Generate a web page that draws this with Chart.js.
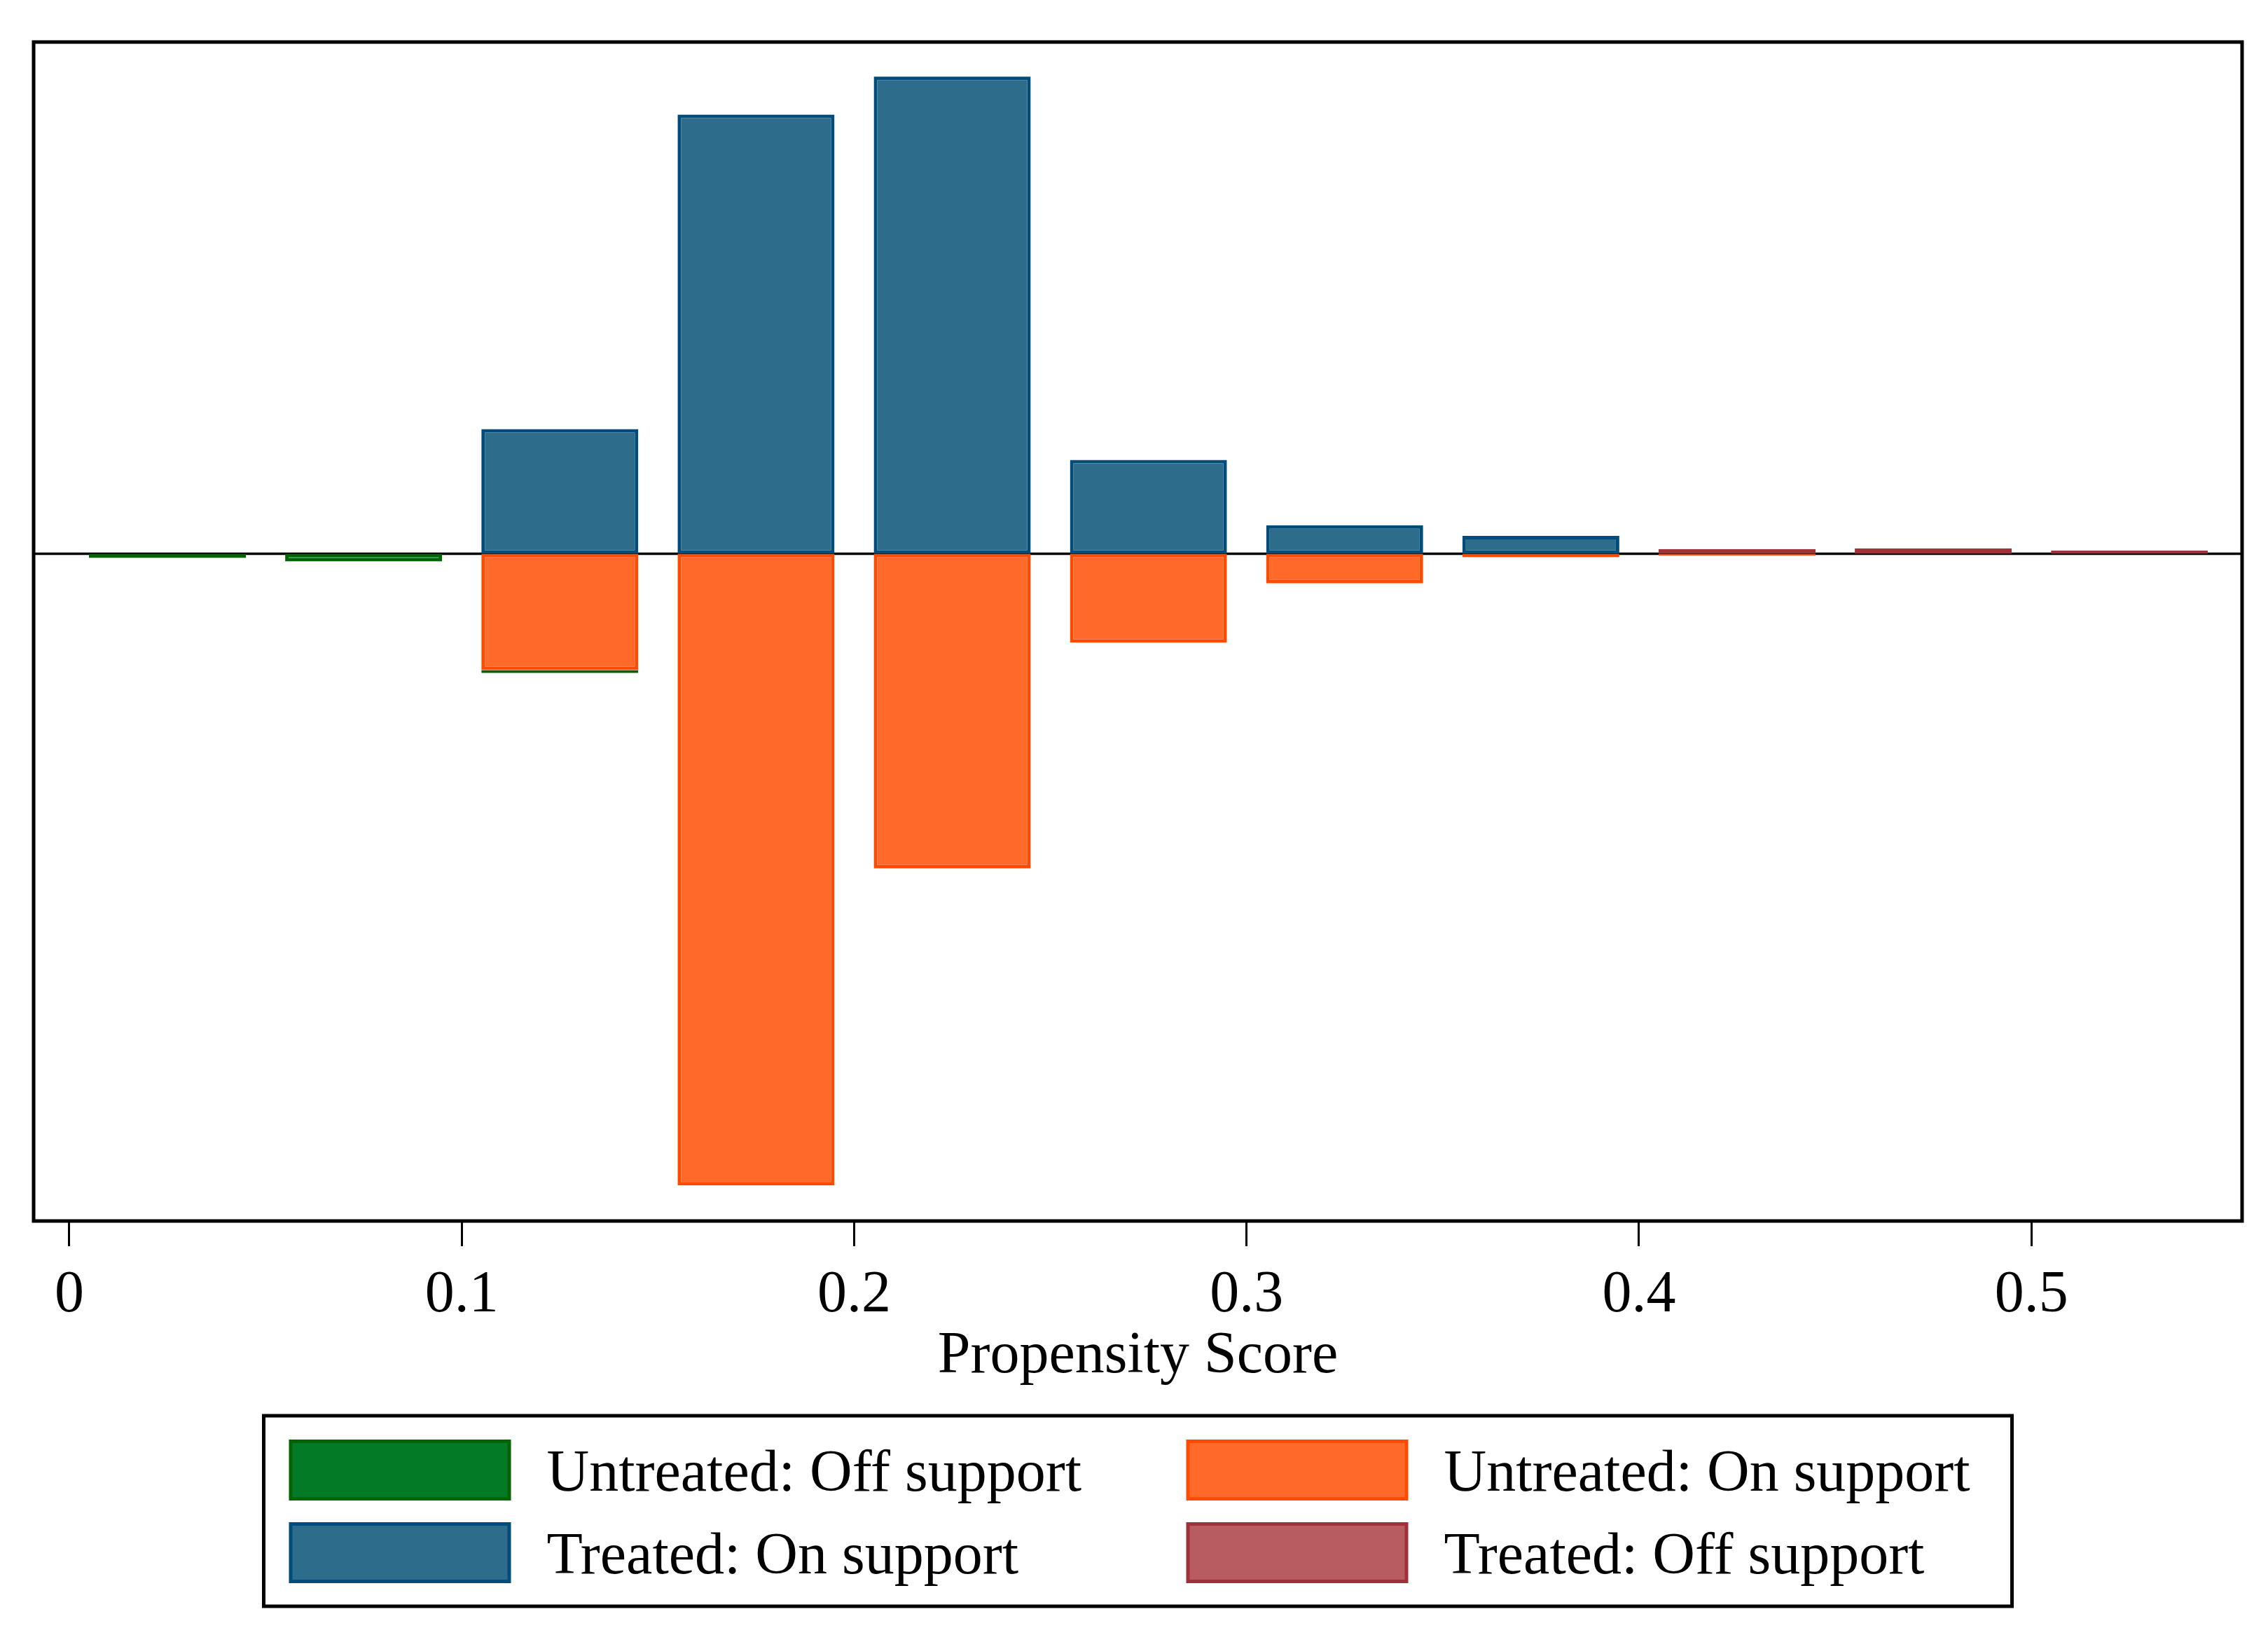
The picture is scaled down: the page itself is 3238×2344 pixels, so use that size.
<!DOCTYPE html>
<html>
<head>
<meta charset="utf-8">
<script src="https://cdn.jsdelivr.net/npm/chart.js@4.4.1/dist/chart.umd.min.js"></script>
<style>
  html, body { margin: 0; padding: 0; background: #fff; }
  #wrap { width: 3238px; height: 2344px; }
</style>
</head>
<body>
<div id="wrap"><canvas id="psChart"></canvas></div>
<script>
// histogram bins of the propensity score (bin centres)
const binCenters = [0.025, 0.075, 0.125, 0.175, 0.225, 0.275, 0.325, 0.375, 0.425, 0.475, 0.525];

// treated group, drawn above zero
const treatedOn  = [null, null, 10.5, 37.0, 40.2, 7.9, 2.4, 1.5, null, null, null];
const treatedOff = [null, null, null, null, null, null, null, null, 0.4, 0.45, 0.27];

// untreated group, drawn below zero
const untreatedOn  = [null, null, -9.8, -53.2, -26.5, -7.5, -2.5, -0.3, -0.15, null, null];
const untreatedOff = [-0.35, -0.65, -0.25, null, null, null, null, null, null, null, null];

const xTicks = [0, 0.1, 0.2, 0.3, 0.4, 0.5];
const xTitle = 'Propensity Score';

const serif = "'Liberation Serif', 'Times New Roman', serif";

// legend is shown in this order (dataset indexes), two per row
const legendOrder = [3, 2, 0, 1];

function toPoints(arr) {
  return binCenters.map((x, i) => ({ x: x, y: arr[i] }));
}

function makeSet(label, values, fill, line) {
  return {
    label: label,
    data: toPoints(values),
    backgroundColor: fill,
    borderColor: line,
    borderWidth: 5,
    borderSkipped: false,
    categoryPercentage: 1.0,
    barPercentage: 0.8,
  };
}

// zero line under the bars and the frame round the plot
const framePlugin = {
  id: 'frame',
  beforeDatasetsDraw(chart) {
    const { ctx, chartArea } = chart;
    const y0 = chart.scales.y.getPixelForValue(0);
    ctx.save();
    ctx.strokeStyle = '#000';
    ctx.lineWidth = 3.5;
    ctx.beginPath();
    ctx.moveTo(chartArea.left, y0);
    ctx.lineTo(chartArea.right, y0);
    ctx.stroke();
    ctx.restore();
  },
  afterDraw(chart) {
    const { ctx, chartArea } = chart;
    ctx.save();
    ctx.strokeStyle = '#000';
    ctx.lineWidth = 5;
    ctx.strokeRect(chartArea.left, chartArea.top,
      chartArea.right - chartArea.left, chartArea.bottom - chartArea.top);
    ctx.restore();
  },
};

// boxed legend, 2 columns, below the axis title
const boxLegend = {
  id: 'boxLegend',
  afterDraw(chart) {
    const { ctx, chartArea } = chart;
    const boxW = 2496, boxH = 272;
    const cx = (chartArea.left + chartArea.right) / 2;
    const left = cx - boxW / 2;
    const top = 2021;

    ctx.save();
    ctx.strokeStyle = '#000';
    ctx.lineWidth = 5;
    ctx.strokeRect(left, top, boxW, boxH);

    const colX = [36, 1317];
    const rowY = [34, 152];
    ctx.font = '84px ' + serif;
    ctx.fillStyle = '#000';
    ctx.textBaseline = 'alphabetic';
    ctx.textAlign = 'left';

    legendOrder.forEach((dsIndex, k) => {
      const ds = chart.data.datasets[dsIndex];
      const sx = left + colX[k % 2];
      const sy = top + rowY[Math.floor(k / 2)];
      ctx.fillStyle = ds.borderColor;
      ctx.fillRect(sx, sy, 317, 87);
      ctx.fillStyle = ds.backgroundColor;
      ctx.fillRect(sx + 5, sy + 5, 307, 77);
      ctx.fillStyle = '#000';
      ctx.fillText(ds.label, sx + 368, sy + 73);
    });
    ctx.restore();
  },
};

const ctx = document.getElementById('psChart').getContext('2d');

new Chart(ctx, {
  type: 'bar',
  data: {
    datasets: [
      makeSet('Treated: On support', treatedOn, '#2E6C8C', '#004C7A'),
      makeSet('Treated: Off support', treatedOff, '#B85C60', '#A0303A'),
      makeSet('Untreated: On support', untreatedOn, '#FF6A2A', '#FF4A00'),
      makeSet('Untreated: Off support', untreatedOff, '#027A26', '#006400'),
    ],
  },
  options: {
    responsive: true,
    maintainAspectRatio: false,
    animation: false,
    devicePixelRatio: 1,
    layout: { padding: { left: 48, top: 60, right: 37, bottom: 357 } },
    plugins: {
      legend: { display: false },
      tooltip: { enabled: false },
    },
    scales: {
      x: {
        type: 'linear',
        stacked: true,
        offset: false,
        min: -0.0091,
        max: 0.5537,
        afterBuildTicks: (scale) => {
          scale.ticks = xTicks.map((v) => ({ value: v }));
        },
        afterFit: (scale) => {
          scale.height = 244;
        },
        grid: {
          offset: false,
          drawOnChartArea: false,
          drawTicks: true,
          tickLength: 36,
          tickWidth: 3,
          tickColor: '#000',
          color: '#000',
        },
        border: { display: false },
        ticks: {
          color: '#000',
          font: { family: serif, size: 84 },
          padding: 21,
          maxRotation: 0,
          autoSkip: false,
          callback: (v) => String(v),
        },
        title: {
          display: true,
          text: xTitle,
          color: '#000',
          font: { family: serif, size: 84 },
          padding: 0,
        },
      },
      y: {
        stacked: true,
        display: false,
        min: -56.2,
        max: 43.1,
      },
    },
  },
  plugins: [framePlugin, boxLegend],
});
</script>
</body>
</html>
